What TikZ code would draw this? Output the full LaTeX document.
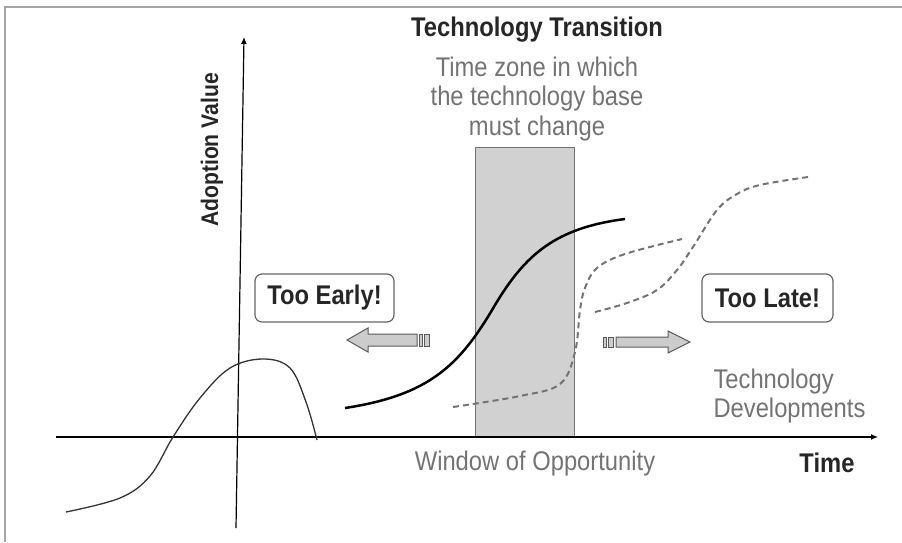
\documentclass[tikz,border=0pt]{standalone}
\usepackage{fontspec}
\setmainfont[FakeStretch=0.88]{Liberation Sans}
\usetikzlibrary{positioning,arrows.meta}

\tikzset{
	flag/.style={draw=black!60, rounded corners=7pt, line width=1.2pt, minimum width=139pt, minimum height=48pt, font=\bfseries\fontsize{27}{29}\selectfont, text=black!85},
	note/.style={text=black!55, font=\fontsize{27}{29.5}\selectfont, align=center},
	heading/.style={text=black!85, font=\bfseries\fontsize{27}{29}\selectfont},
	trend/.style={black!55, line width=2pt, dash pattern=on 6pt off 4pt},
	fatarrow/.style={fill=black!20, draw=black!65, line width=1pt},
}

\begin{document}
\begin{tikzpicture}[x=1pt, y=-1pt]
	
	\useasboundingbox (0,0) rectangle (902,542);
	\draw[black!35, line width=1.5pt] (5,542) -- (5,7) -- (902,7);
	
	\coordinate (ys) at (236,528);
	\coordinate (ye) at (244,37);
	\coordinate (xs) at (56,437);
	\coordinate (xe) at (878,437);
	
	\fill[black!18] (475,147) rectangle (574,437);
	\draw[black!55, line width=1pt] (475,437) -- (475,147) -- (574,147) -- (574,437);
	
	\draw[line width=1.2pt, -{Latex[length=7pt,width=6pt]}] (xs) -- (xe);
	\draw[line width=1.2pt, -{Latex[length=7pt,width=6pt]}] (ys) -- (ye);
	
	\draw[black!80, line width=1.3pt] plot[smooth, tension=0.6] coordinates {(66,512) (120,498) (150,476) (173,437) (200,398) (230,368) (263,359) (290,368) (306,402) (317,440)};
	
	\draw[line width=2.5pt] (345,408) .. controls (430,395) and (460,365) .. (495,305) .. controls (525,255) and (555,228) .. (625,219);
	
	\draw[trend] plot[smooth, tension=0.6] coordinates {(453,407) (520,396) (560,384) (575,352) (580,310) (585,288) (597,268) (625,254) (682,239)};
	\draw[trend] plot[smooth, tension=0.6] coordinates {(595,312) (627,303) (657,290) (677,270) (693,247) (717,210) (737,194) (760,185) (808,177)};
	
	\draw[fatarrow] (347,340) -- (368,328) -- (368,334) -- (417,334) -- (417,346) -- (368,346) -- (368,352) -- cycle;
	\draw[fatarrow] (419,334) rectangle (422,346);
	\draw[fatarrow] (424,334) rectangle (429,346);
	
	\draw[fatarrow] (690,342) -- (668,331) -- (668,337) -- (616,337) -- (616,347) -- (668,347) -- (668,353) -- cycle;
	\draw[fatarrow] (603,337) rectangle (606,347);
	\draw[fatarrow] (608,337) rectangle (613,347);
	
	\node[heading] (trans) at (537,30) {Technology Transition};
	\node[note] (zone) at (537,99) {Time zone in which\\the technology base\\must change};
	\node[heading, rotate=90, font=\bfseries\fontsize{24}{25}\selectfont] (adopt) at (212,150) {Adoption Value};
	\node[flag] (early) at (324.5,298) {Too Early!};
	\node[flag, minimum width=131pt] (late) at (767.5,298) {Too Late!};
	\node[note, align=left, anchor=west] (devs) at (710,396) {Technology\\Developments};
	\node[note] (window) at (535,464) {Window of Opportunity};
	\node[heading] (time) at (827,463) {Time};
	
\end{tikzpicture}
\end{document}
